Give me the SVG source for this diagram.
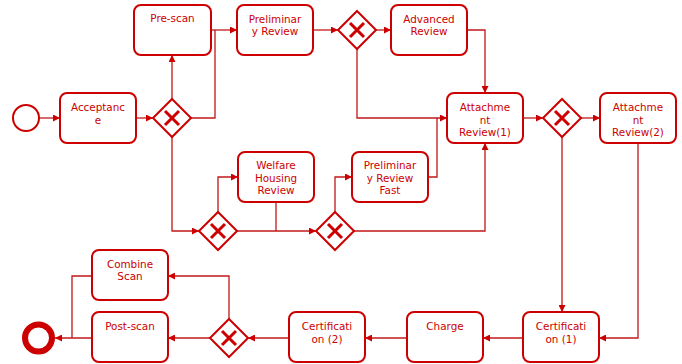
<svg xmlns="http://www.w3.org/2000/svg" width="682" height="364" viewBox="0 0 682 364">
  <defs>
    <marker id="arrow" viewBox="0 0 10 10" refX="10" refY="5" markerWidth="7" markerHeight="7" markerUnits="userSpaceOnUse" orient="auto">
      <path d="M0,0 L10,5 L0,10 z" fill="#cc0000"/>
    </marker>
    <g id="xmark">
      <path d="M-7,-7 L7,7 M7,-7 L-7,7" stroke="#cc0000" stroke-width="3" fill="none"/>
    </g>
  </defs>
  <style>
    .task { fill: #ffffff; stroke: #cc0000; stroke-width: 2; }
    .gw { fill: #ffffff; stroke: #cc0000; stroke-width: 2; }
    .lbl { font-family: "DejaVu Sans", Verdana, sans-serif; font-size: 10.4px; fill: #cc0000; text-anchor: middle; }
    .flow { fill: none; stroke: #c01818; stroke-width: 1.3; }
    .flow-a { fill: none; stroke: #c01818; stroke-width: 1.3; marker-end: url(#arrow); }
  </style>

  <!-- sequence flows -->
  <g id="connectors">
    <path class="flow-a" d="M39,118 H60"/>
    <path class="flow-a" d="M136,118 H153"/>
    <path class="flow-a" d="M172,99 V55"/>
    <path class="flow" d="M191,118 H215 V30"/>
    <path class="flow-a" d="M211,30 H237"/>
    <path class="flow-a" d="M313,30 H338"/>
    <path class="flow-a" d="M376,30 H391"/>
    <path class="flow-a" d="M467,30 H485 V93"/>
    <path class="flow-a" d="M357,49 V118 H447"/>
    <path class="flow" d="M428,177 H437 V118"/>
    <path class="flow-a" d="M523,118 H543"/>
    <path class="flow-a" d="M581,118 H600"/>
    <path class="flow-a" d="M562,137 V312"/>
    <path class="flow-a" d="M638,143 V338 H599"/>
    <path class="flow-a" d="M523,338 H483"/>
    <path class="flow-a" d="M407,338 H365"/>
    <path class="flow-a" d="M289,338 H248"/>
    <path class="flow-a" d="M210,338 H168"/>
    <path class="flow-a" d="M229,319 V276 H168"/>
    <path class="flow-a" d="M92,338 H55"/>
    <path class="flow" d="M92,276 H72 V338"/>
    <path class="flow-a" d="M172,137 V231 H199"/>
    <path class="flow-a" d="M218,212 V177 H238"/>
    <path class="flow-a" d="M237,231 H316"/>
    <path class="flow" d="M276,202 V231"/>
    <path class="flow-a" d="M335,212 V177 H352"/>
    <path class="flow-a" d="M354,231 H485 V143"/>
  </g>

  <!-- events -->
  <g id="start">
    <circle cx="26" cy="118" r="13" fill="#ffffff" stroke="#cc0000" stroke-width="2"/>
  </g>
  <g id="end">
    <circle cx="38.5" cy="338" r="13.5" fill="#ffffff" stroke="#cc0000" stroke-width="6"/>
  </g>

  <!-- tasks -->
  <g id="acceptance">
    <rect class="task" x="60" y="93" width="76" height="50" rx="7"/>
    <text class="lbl" x="98" y="111">Acceptanc</text>
    <text class="lbl" x="98" y="123.5">e</text>
  </g>
  <g id="prescan">
    <rect class="task" x="134" y="5" width="77" height="50" rx="7"/>
    <text class="lbl" x="172.5" y="22">Pre-scan</text>
  </g>
  <g id="prelim">
    <rect class="task" x="237" y="5" width="76" height="50" rx="7"/>
    <text class="lbl" x="275" y="22.5">Preliminar</text>
    <text class="lbl" x="275" y="35">y Review</text>
  </g>
  <g id="advanced">
    <rect class="task" x="391" y="5" width="76" height="50" rx="7"/>
    <text class="lbl" x="429" y="22.5">Advanced</text>
    <text class="lbl" x="429" y="35">Review</text>
  </g>
  <g id="attach1">
    <rect class="task" x="447" y="93" width="76" height="50" rx="7"/>
    <text class="lbl" x="485" y="111">Attachme</text>
    <text class="lbl" x="485" y="123.5">nt</text>
    <text class="lbl" x="485" y="136">Review(1)</text>
  </g>
  <g id="attach2">
    <rect class="task" x="600" y="93" width="76" height="50" rx="7"/>
    <text class="lbl" x="638" y="111">Attachme</text>
    <text class="lbl" x="638" y="123.5">nt</text>
    <text class="lbl" x="638" y="136">Review(2)</text>
  </g>
  <g id="welfare">
    <rect class="task" x="238" y="152" width="76" height="50" rx="7"/>
    <text class="lbl" x="276" y="169">Welfare</text>
    <text class="lbl" x="276" y="181.5">Housing</text>
    <text class="lbl" x="276" y="194">Review</text>
  </g>
  <g id="prelimfast">
    <rect class="task" x="352" y="152" width="76" height="50" rx="7"/>
    <text class="lbl" x="390" y="169">Preliminar</text>
    <text class="lbl" x="390" y="181.5">y Review</text>
    <text class="lbl" x="390" y="194">Fast</text>
  </g>
  <g id="cert1">
    <rect class="task" x="523" y="312" width="76" height="50" rx="7"/>
    <text class="lbl" x="561" y="330">Certificati</text>
    <text class="lbl" x="561" y="342.5">on (1)</text>
  </g>
  <g id="charge">
    <rect class="task" x="407" y="312" width="76" height="50" rx="7"/>
    <text class="lbl" x="445" y="330">Charge</text>
  </g>
  <g id="cert2">
    <rect class="task" x="289" y="312" width="76" height="50" rx="7"/>
    <text class="lbl" x="327" y="330">Certificati</text>
    <text class="lbl" x="327" y="342.5">on (2)</text>
  </g>
  <g id="postscan">
    <rect class="task" x="92" y="312" width="76" height="50" rx="7"/>
    <text class="lbl" x="130" y="330">Post-scan</text>
  </g>
  <g id="combine">
    <rect class="task" x="92" y="250" width="76" height="50" rx="7"/>
    <text class="lbl" x="130" y="267.5">Combine</text>
    <text class="lbl" x="130" y="280">Scan</text>
  </g>

  <!-- exclusive gateways -->
  <g id="gw1" transform="translate(172,118)">
    <path class="gw" d="M0,-19 L19,0 L0,19 L-19,0 z"/>
    <use href="#xmark"/>
  </g>
  <g id="gw2" transform="translate(357,30)">
    <path class="gw" d="M0,-19 L19,0 L0,19 L-19,0 z"/>
    <use href="#xmark"/>
  </g>
  <g id="gw3" transform="translate(562,118)">
    <path class="gw" d="M0,-19 L19,0 L0,19 L-19,0 z"/>
    <use href="#xmark"/>
  </g>
  <g id="gw4" transform="translate(229,338)">
    <path class="gw" d="M0,-19 L19,0 L0,19 L-19,0 z"/>
    <use href="#xmark"/>
  </g>
  <g id="gw5" transform="translate(218,231)">
    <path class="gw" d="M0,-19 L19,0 L0,19 L-19,0 z"/>
    <use href="#xmark"/>
  </g>
  <g id="gw6" transform="translate(335,231)">
    <path class="gw" d="M0,-19 L19,0 L0,19 L-19,0 z"/>
    <use href="#xmark"/>
  </g>
</svg>
